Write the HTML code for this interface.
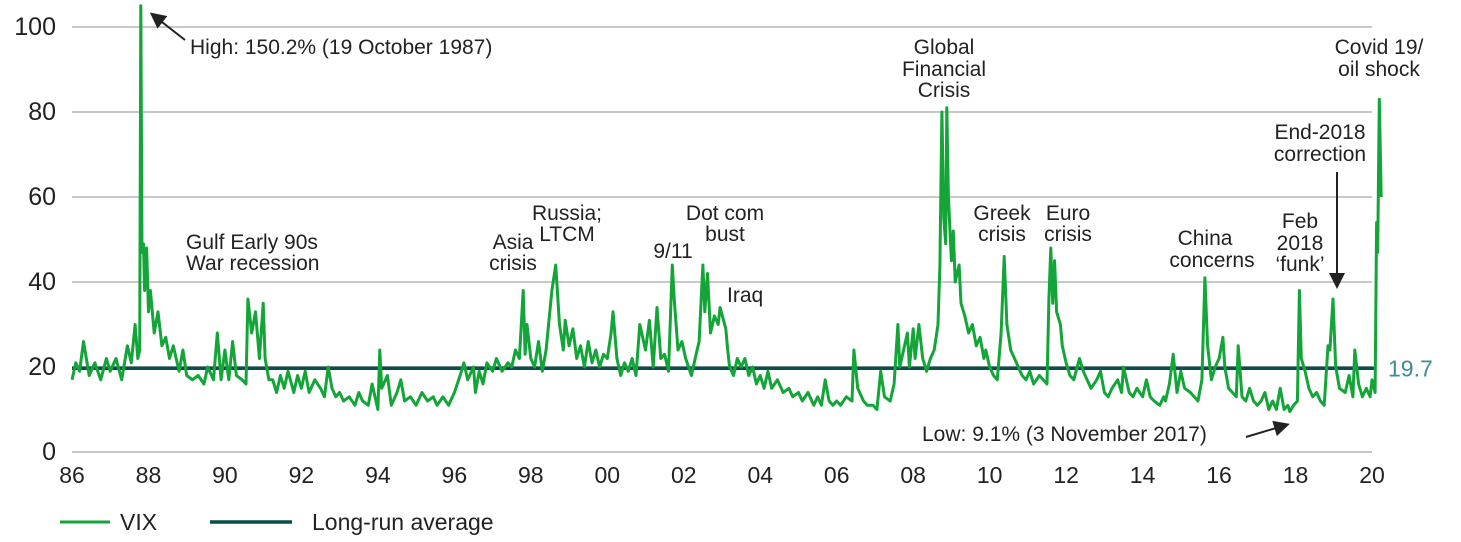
<!DOCTYPE html>
<html><head><meta charset="utf-8"><style>
body{margin:0;background:#fff;}
svg{display:block;font-family:"Liberation Sans",sans-serif;}
.ax{font-size:23px;fill:#222;}
</style></head><body>
<svg id="chart" width="1461" height="542" viewBox="0 0 1461 542"></svg>
<script>
const years=[86.0,86.1,86.2,86.3,86.45,86.6,86.75,86.9,87.0,87.15,87.3,87.45,87.55,87.65,87.72,87.77,87.8,87.83,87.87,87.9,87.95,88.0,88.05,88.15,88.25,88.35,88.45,88.55,88.65,88.8,88.9,89.0,89.15,89.3,89.45,89.55,89.7,89.8,89.9,90.0,90.1,90.2,90.3,90.45,90.55,90.6,90.7,90.8,90.9,91.0,91.05,91.15,91.25,91.35,91.45,91.55,91.65,91.8,91.9,92.0,92.1,92.2,92.35,92.5,92.6,92.7,92.8,92.9,93.0,93.1,93.25,93.4,93.5,93.6,93.75,93.85,94.0,94.05,94.1,94.25,94.35,94.5,94.6,94.7,94.85,95.0,95.15,95.3,95.45,95.55,95.7,95.85,96.0,96.15,96.25,96.35,96.5,96.55,96.65,96.75,96.85,97.0,97.1,97.25,97.4,97.5,97.6,97.7,97.8,97.85,97.9,98.0,98.1,98.2,98.3,98.4,98.55,98.65,98.75,98.85,98.9,99.0,99.1,99.2,99.3,99.4,99.5,99.6,99.7,99.8,99.9,100.0,100.1,100.15,100.25,100.35,100.45,100.55,100.65,100.75,100.85,101.0,101.1,101.2,101.3,101.4,101.5,101.6,101.7,101.75,101.85,101.95,102.05,102.2,102.3,102.4,102.5,102.55,102.62,102.7,102.8,102.9,102.95,103.1,103.15,103.2,103.3,103.4,103.5,103.6,103.7,103.8,103.9,104.0,104.1,104.2,104.3,104.45,104.6,104.75,104.85,105.0,105.1,105.25,105.4,105.5,105.6,105.7,105.8,105.9,106.0,106.1,106.25,106.4,106.45,106.55,106.7,106.8,106.95,107.05,107.15,107.25,107.4,107.5,107.6,107.65,107.75,107.85,107.9,108.0,108.05,108.15,108.25,108.35,108.45,108.55,108.65,108.7,108.75,108.8,108.85,108.88,108.92,109.0,109.05,109.1,109.2,109.25,109.35,109.45,109.55,109.65,109.75,109.85,109.9,110.0,110.1,110.2,110.3,110.38,110.45,110.55,110.65,110.75,110.85,110.95,111.05,111.15,111.3,111.4,111.5,111.55,111.6,111.65,111.7,111.75,111.85,111.9,112.0,112.1,112.2,112.35,112.45,112.55,112.65,112.8,112.9,113.0,113.1,113.2,113.35,113.45,113.5,113.65,113.75,113.85,114.0,114.1,114.2,114.3,114.45,114.55,114.6,114.7,114.8,114.9,115.0,115.1,115.25,115.35,115.45,115.55,115.63,115.7,115.8,115.9,116.0,116.1,116.15,116.25,116.35,116.45,116.5,116.6,116.7,116.8,116.9,117.0,117.1,117.2,117.3,117.4,117.5,117.6,117.7,117.8,117.85,117.95,118.05,118.1,118.15,118.25,118.35,118.45,118.55,118.65,118.75,118.85,118.9,118.98,119.05,119.15,119.3,119.4,119.5,119.55,119.65,119.75,119.85,119.95,120.0,120.08,120.12,120.15,120.19,120.24];
const vix=[17,21,19,26,18,21,17,22,19,22,17,25,21,30,22,24,105,47,49,38,48,33,38,28,33,25,27,22,25,19,24,18,17,18,16,20,17,28,17,24,17,26,18,17,16,36,28,33,22,35,22,17,17,14,18,15,19,14,18,15,19,14,17,15,13,20,15,13,14,12,13,11,14,12,11,16,10,24,15,18,11,14,17,12,13,11,14,12,13,11,13,11,14,18,21,17,20,14,19,16,21,19,22,19,21,20,24,22,38,23,30,22,20,26,19,24,38,44,30,24,31,25,29,22,25,20,26,21,24,20,23,22,28,33,22,18,21,19,22,18,30,24,31,20,34,22,23,19,44,36,24,26,22,18,22,26,44,33,42,28,32,30,34,29,24,20,18,22,20,22,18,20,16,18,15,19,15,17,14,15,13,14,12,14,11,13,11,17,12,11,12,11,13,12,24,15,12,11,11,10,19,13,12,16,30,20,24,28,20,29,22,30,22,19,22,24,30,44,80,55,49,81,60,45,52,40,44,35,32,28,30,25,27,22,24,20,18,17,28,46,30,24,22,20,18,17,19,16,18,17,16,36,48,35,45,33,30,25,21,18,17,22,19,17,15,17,19,14,13,15,17,14,20,14,13,15,13,17,13,12,11,13,12,16,23,14,19,15,14,13,12,17,41,25,17,20,22,27,20,15,14,13,25,13,12,15,12,11,12,14,10,12,10,15,10,11,9.5,11,12,38,22,19,15,13,14,12,11,25,24,36,20,15,14,18,13,24,16,13,15,13,17,14,54,47,83,60];
const yTicks=[0,20,40,60,80,100];
const xTickVals=[86,88,90,92,94,96,98,100,102,104,106,108,110,112,114,116,118,120];
const xTickLabels=["86","88","90","92","94","96","98","00","02","04","06","08","10","12","14","16","18","20"];
const avgValue=19.7;

const NS="http://www.w3.org/2000/svg";
const svg=document.getElementById('chart');
const X=v=>72+(v-86)*1300/34;
const Y=v=>452-v*4.25;
function mk(tag,attrs,parent){const e=document.createElementNS(NS,tag);for(const k in attrs)e.setAttribute(k,attrs[k]);(parent||svg).appendChild(e);return e;}
const clip=mk('clipPath',{id:'c'});mk('rect',{x:0,y:0,width:1461,height:454},clip);
yTicks.forEach(t=>{
 const g=mk('line',{x1:72,x2:1372,y1:Y(t),y2:Y(t),stroke:'#c8c8c8','stroke-width':2});
 
 
 const l=mk('text',{x:56,y:Y(t)+8,'text-anchor':'end',class:'ax',style:'font-size:25px'});l.textContent=t;
 
 
});
xTickVals.forEach((v,i)=>{
 const l=mk('text',{x:X(v),y:483,'text-anchor':'middle',class:'ax'});l.textContent=xTickLabels[i];
 
 
});
const avg=mk('line',{x1:72,x2:1376,y1:Y(avgValue),y2:Y(avgValue),stroke:'#0b4d4f','stroke-width':3.5});


const pts=years.map((y,i)=>X(y).toFixed(1)+','+Y(vix[i]).toFixed(1)).join(' ');
const vl=mk('polyline',{points:pts,fill:'none',stroke:'#13a538','stroke-width':3,'stroke-linejoin':'round','clip-path':'url(#c)'});


const al=mk('text',{x:1388,y:Y(avgValue)+8,style:'font-size:23px;fill:#3d8c95'});al.textContent=avgValue;


</script>
<svg style="position:absolute;left:0;top:0" width="1461" height="542">
<defs><marker id="ah" markerWidth="8" markerHeight="8" refX="6" refY="4" orient="auto"><path d="M0,0 L8,4 L0,8z" fill="#222"/></marker></defs>
<g font-family="Liberation Sans, sans-serif" font-size="21" fill="#222">
<line x1="185" y1="40" x2="153" y2="15" stroke="#222" stroke-width="2" marker-end="url(#ah)"/>
<text x="190" y="54">High: 150.2% (19 October 1987)</text>
<text x="186" y="249">Gulf Early 90s</text>
<text x="186" y="270">War recession</text>
<text x="513" y="249" text-anchor="middle">Asia</text>
<text x="513" y="270" text-anchor="middle">crisis</text>
<text x="567" y="220" text-anchor="middle">Russia;</text>
<text x="567" y="241" text-anchor="middle">LTCM</text>
<text x="673" y="258" text-anchor="middle">9/11</text>
<text x="725" y="220" text-anchor="middle">Dot com</text>
<text x="725" y="241" text-anchor="middle">bust</text>
<text x="727" y="302">Iraq</text>
<text x="944" y="54" text-anchor="middle">Global</text>
<text x="944" y="76" text-anchor="middle">Financial</text>
<text x="944" y="97" text-anchor="middle">Crisis</text>
<text x="1002" y="220" text-anchor="middle">Greek</text>
<text x="1002" y="241" text-anchor="middle">crisis</text>
<text x="1068" y="220" text-anchor="middle">Euro</text>
<text x="1068" y="241" text-anchor="middle">crisis</text>
<text x="1205" y="245" text-anchor="middle">China</text>
<text x="1212" y="267" text-anchor="middle">concerns</text>
<text x="1300" y="228" text-anchor="middle">Feb</text>
<text x="1300" y="250" text-anchor="middle">2018</text>
<text x="1300" y="271" text-anchor="middle">‘funk’</text>
<text x="1320" y="139" text-anchor="middle">End-2018</text>
<text x="1320" y="161" text-anchor="middle">correction</text>
<line x1="1337" y1="172" x2="1337" y2="285" stroke="#222" stroke-width="2" marker-end="url(#ah)"/>
<text x="1379" y="54" text-anchor="middle">Covid 19/</text>
<text x="1379" y="76" text-anchor="middle">oil shock</text>
<text x="922" y="441">Low: 9.1% (3 November 2017)</text>
<line x1="1246" y1="437" x2="1286" y2="425" stroke="#222" stroke-width="2" marker-end="url(#ah)"/>
<line x1="60" y1="522" x2="110" y2="522" stroke="#13a538" stroke-width="3"/>
<text x="120" y="530" font-size="23">VIX</text>
<line x1="210" y1="522" x2="292" y2="522" stroke="#0b4d4f" stroke-width="3.5"/>
<text x="312" y="530" font-size="23">Long-run average</text>
</g></svg>
</body></html>
